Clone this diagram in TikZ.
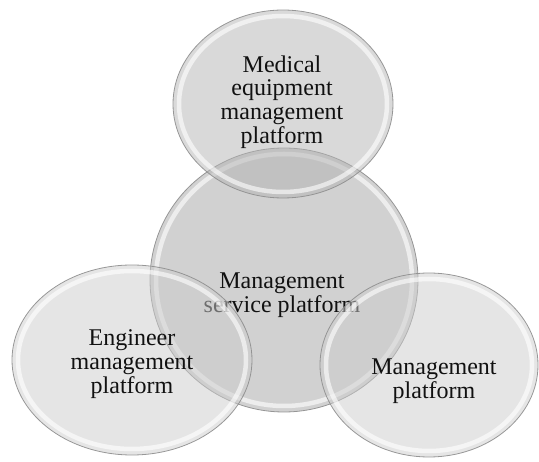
\documentclass[tikz,border=0pt]{standalone}
\usepackage{fontspec}
\setmainfont{Liberation Serif}
\usetikzlibrary{shapes.geometric}
\definecolor{pfRim}{HTML}{8E8E8E}
\definecolor{pfInk}{HTML}{111111}
\definecolor{pfCore}{HTML}{A3A3A3}
\definecolor{pfTop}{HTML}{B3B3B3}
\definecolor{pfSide}{HTML}{CCCCCC}
\tikzset{
  pf diagram/.style={x=1pt, y=-1pt, text=pfInk,
    font=\fontsize{24}{23.8}\selectfont},
  pf disc/.style={ellipse, draw=pfRim, line width=0.8pt, inner sep=0pt,
    fill opacity=0.5, draw opacity=0.9},
  pf shine/.style={draw=white, line width=4.5pt, draw opacity=0.6},
  pf label/.style={align=center, inner sep=0pt}
}

\begin{document}
\begin{tikzpicture}[pf diagram]
\useasboundingbox (0,0) rectangle (539,462);
% core first, the three platforms lie over it
\foreach \name/\cx/\cy/\rx/\ry/\tone/\tx/\ty/\title in {
  svc/284/280/134/132/pfCore/282/295/{Management\\service platform},
  med/283/104/110/94/pfTop/282/102/{Medical\\equipment\\management\\platform},
  eng/132/360/120/95/pfSide/132/364/{Engineer\\management\\platform},
  mgmt/429/365/109/92/pfSide/434/381/{Management\\platform}}{
  \node[pf disc, fill=\tone, minimum width=2*\rx pt, minimum height=2*\ry pt]
    (\name) at (\cx,\cy) {};
  \draw[pf shine] (\name.center) ellipse [x radius=\rx pt-6pt, y radius=\ry pt-6pt];
  \node[pf label] (\name-text) at (\tx,\ty) {\title};
}
\end{tikzpicture}
\end{document}
